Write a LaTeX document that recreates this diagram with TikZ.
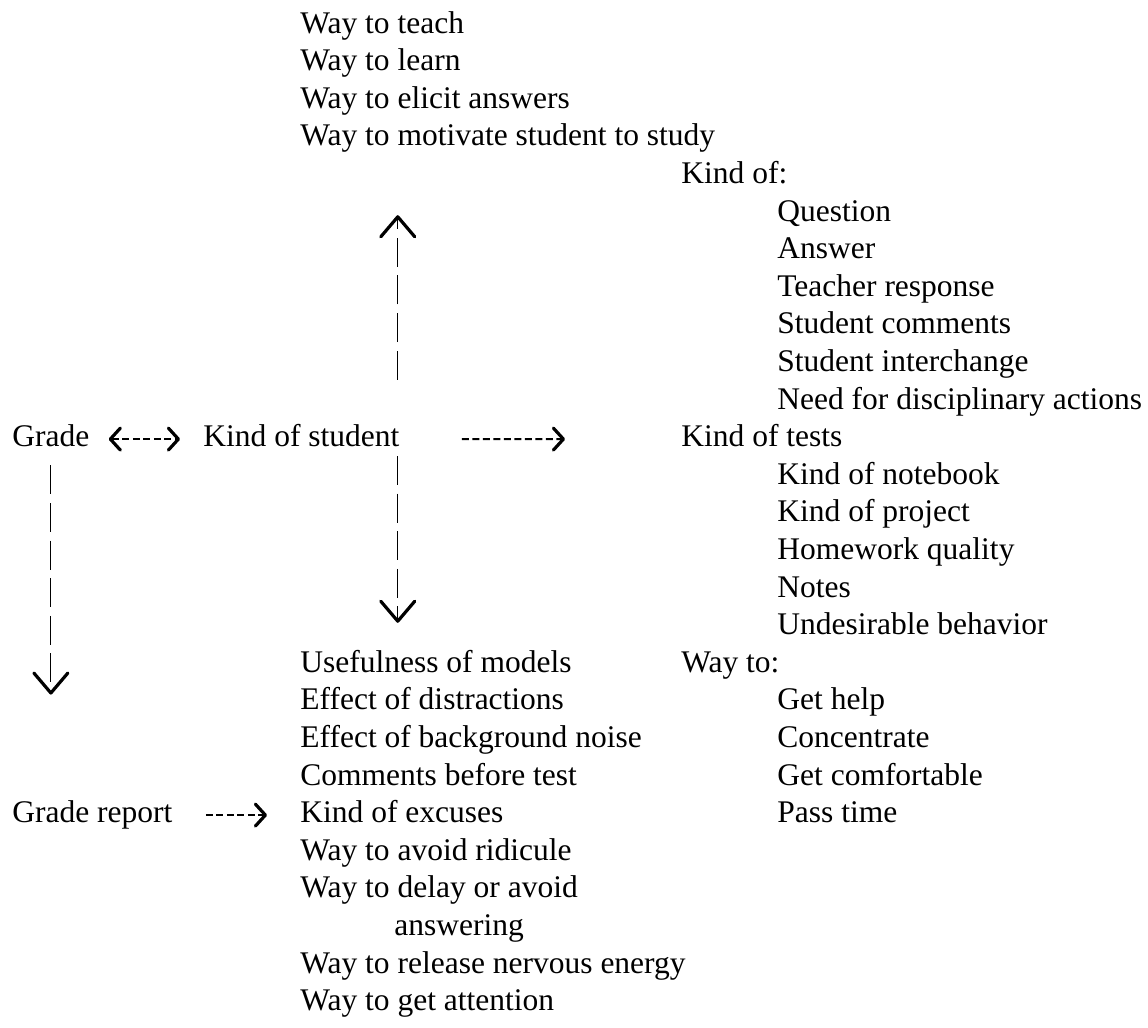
\documentclass[tikz,border=0pt]{standalone}
\usepackage{fontspec}
\setmainfont{Liberation Serif}
\usetikzlibrary{positioning, arrows.meta}
\tikzstyle{entry} = [anchor=base west, inner sep=0pt, text height=11pt, text depth=3.5pt, font=\fontsize{15.75pt}{18.8pt}\selectfont]
\tikzset{under/.style={below=18.8pt of #1.base west, anchor=base west}}
\tikzstyle{hline} = [line width=1pt, dash pattern=on 3.5pt off 1.75pt, >={Straight Barb[length=5pt, width=11pt, line width=1.6pt, round]}, ->]
\tikzstyle{vline} = [line width=0.6pt, dash pattern=on 14.5pt off 4.3pt, >={Straight Barb[length=10pt, width=17pt, line width=1.6pt, round]}, ->]

\begin{document}
\begin{tikzpicture}[x=0.5pt, y=-0.5pt]
\useasboundingbox (0,0) rectangle (1148,1028);
% top list
\node (teach) [entry] at (300,33) {Way to teach};
\node (learn) [entry, under=teach] {Way to learn};
\node (elicit) [entry, under=learn] {Way to elicit answers};
\node (motivate) [entry, under=elicit] {Way to motivate student to study};
% right column
\node (kindof) [entry] at (681,183.4) {Kind of:};
\node (question) [entry, under=kindof, xshift=48pt] {Question};
\node (answer) [entry, under=question] {Answer};
\node (response) [entry, under=answer] {Teacher response};
\node (comments) [entry, under=response] {Student comments};
\node (interchange) [entry, under=comments] {Student interchange};
\node (discipline) [entry, under=interchange] {Need for disciplinary actions};
\node (tests) [entry, under=discipline, xshift=-48pt] {Kind of tests};
\node (notebook) [entry, under=tests, xshift=48pt] {Kind of notebook};
\node (project) [entry, under=notebook] {Kind of project};
\node (homework) [entry, under=project] {Homework quality};
\node (notes) [entry, under=homework] {Notes};
\node (behavior) [entry, under=notes] {Undesirable behavior};
\node (wayto) [entry, under=behavior, xshift=-48pt] {Way to:};
\node (help) [entry, under=wayto, xshift=48pt] {Get help};
\node (concentrate) [entry, under=help] {Concentrate};
\node (comfortable) [entry, under=concentrate] {Get comfortable};
\node (passtime) [entry, under=comfortable] {Pass time};
% middle row
\node (grade) [entry] at (12,446.6) {Grade};
\node (student) [entry] at (203,446.6) {Kind of student};
% bottom list
\node (useful) [entry] at (300,672.2) {Usefulness of models};
\node (distract) [entry, under=useful] {Effect of distractions};
\node (noise) [entry, under=distract] {Effect of background noise};
\node (beforetest) [entry, under=noise] {Comments before test};
\node (excuses) [entry, under=beforetest] {Kind of excuses};
\node (ridicule) [entry, under=excuses] {Way to avoid ridicule};
\node (delay) [entry, under=ridicule] {Way to delay or avoid};
\node (answering) [entry, under=delay, xshift=47pt] {answering};
\node (nervous) [entry, under=answering, xshift=-47pt] {Way to release nervous energy};
\node (attention) [entry, under=nervous] {Way to get attention};
\node (report) [entry] at (12,822.6) {Grade report};

\draw [hline, <->, shorten <=9.5pt, shorten >=11.5pt] (grade) -- (student);
\draw [hline, shorten <=31pt, shorten >=58pt] (student) -- (tests);
\draw [hline, shorten <=16.5pt, shorten >=16.5pt] (report) -- (excuses);
\draw [vline, shorten <=5.7pt, shorten >=52.8pt] (grade.south) -- (grade.south |- report.north);
\draw [vline, shorten <=22.3pt, shorten >=31pt] ([xshift=-1pt]student.north east) -- ([xshift=-1pt]student.north east |- motivate.south);
\draw [vline, shorten <=1pt, shorten >=13.5pt] ([xshift=-1pt]student.south east) -- ([xshift=-1pt]student.south east |- useful.north);
\end{tikzpicture}
\end{document}
